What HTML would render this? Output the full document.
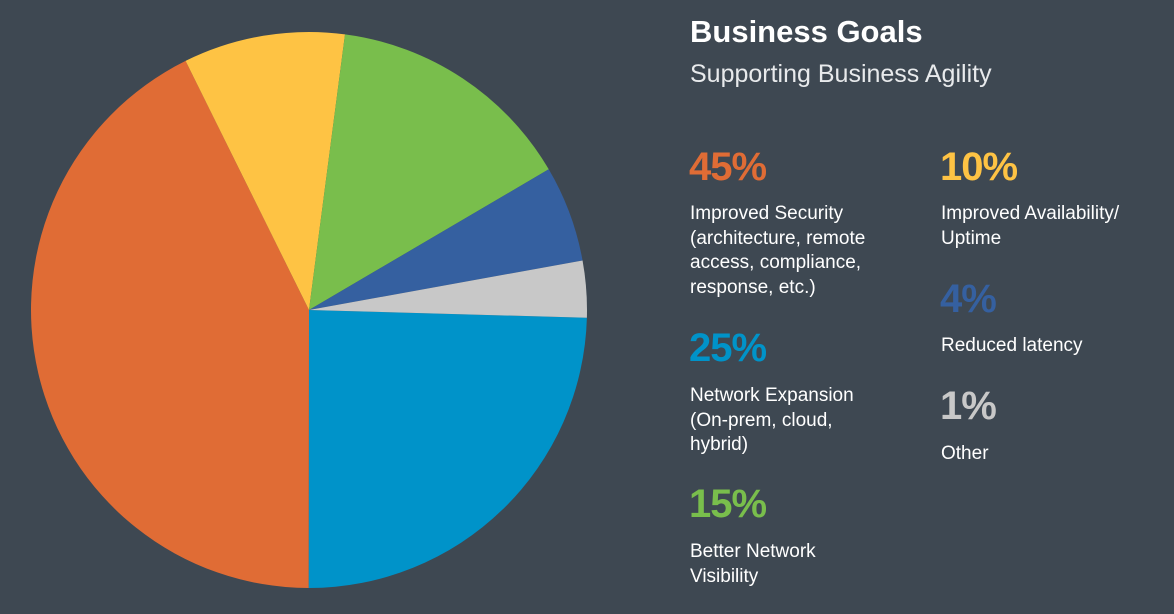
<!DOCTYPE html>
<html><head><meta charset="utf-8"><style>
body{margin:0;width:1174px;height:614px;background:#3e4852;overflow:hidden;font-family:"Liberation Sans",sans-serif;position:relative}
.t{position:absolute;color:#fff}
.p{position:absolute;font-weight:bold;font-size:40px;letter-spacing:-1px}
.l{position:absolute;color:#fff;font-size:19px;line-height:24.5px}
</style></head><body>
<svg id="pie" width="620" height="614" style="position:absolute;left:0;top:0"></svg>
<div class="t" style="left:690px;top:14px;font-size:31px;font-weight:bold">Business Goals</div>
<div class="t" style="left:690px;top:60px;font-size:25px;color:#e8eaec">Supporting Business Agility</div>
<div class="p" style="left:689px;top:145px;color:#e06c35">45%</div>
<div class="l" style="left:690px;top:202px">Improved Security<br>(architecture, remote<br>access, compliance,<br>response, etc.)</div>
<div class="p" style="left:689px;top:326px;color:#0093c9">25%</div>
<div class="l" style="left:690px;top:384px">Network Expansion<br>(On-prem, cloud,<br>hybrid)</div>
<div class="p" style="left:689px;top:482px;color:#79be4c">15%</div>
<div class="l" style="left:690px;top:540px">Better Network<br>Visibility</div>
<div class="p" style="left:940px;top:145px;color:#fec344">10%</div>
<div class="l" style="left:941px;top:202px">Improved Availability/<br>Uptime</div>
<div class="p" style="left:940px;top:277px;color:#3560a0">4%</div>
<div class="l" style="left:941px;top:334px">Reduced latency</div>
<div class="p" style="left:940px;top:384px;color:#c8c8c8">1%</div>
<div class="l" style="left:941px;top:442px">Other</div>
<script>
const categories=["Network Expansion","Improved Security","Improved Availability","Better Network Visibility","Reduced latency","Other"];
const values=[24.6,42.7,9.4,14.5,5.6,3.3];
const colors=["#0093c9","#e06c35","#fec344","#79be4c","#3560a0","#c8c8c8"];
const svg=document.getElementById('pie');
const cx=309,cy=310,r=278;
const total=values.reduce((a,b)=>a+b,0);
let a=1.6*Math.PI/180;
function pt(t){return [cx+r*Math.cos(t),cy+r*Math.sin(t)];}
values.forEach((v,i)=>{
  const s=a,e=a+v/total*2*Math.PI;a=e;
  const p1=pt(s),p2=pt(e);
  const path=document.createElementNS('http://www.w3.org/2000/svg','path');
  path.setAttribute('d',`M${cx},${cy}L${p1[0]},${p1[1]}A${r},${r} 0 ${e-s>Math.PI?1:0} 1 ${p2[0]},${p2[1]}Z`);
  path.setAttribute('fill',colors[i]);
  
  
  svg.appendChild(path);
});
</script>
</body></html>
